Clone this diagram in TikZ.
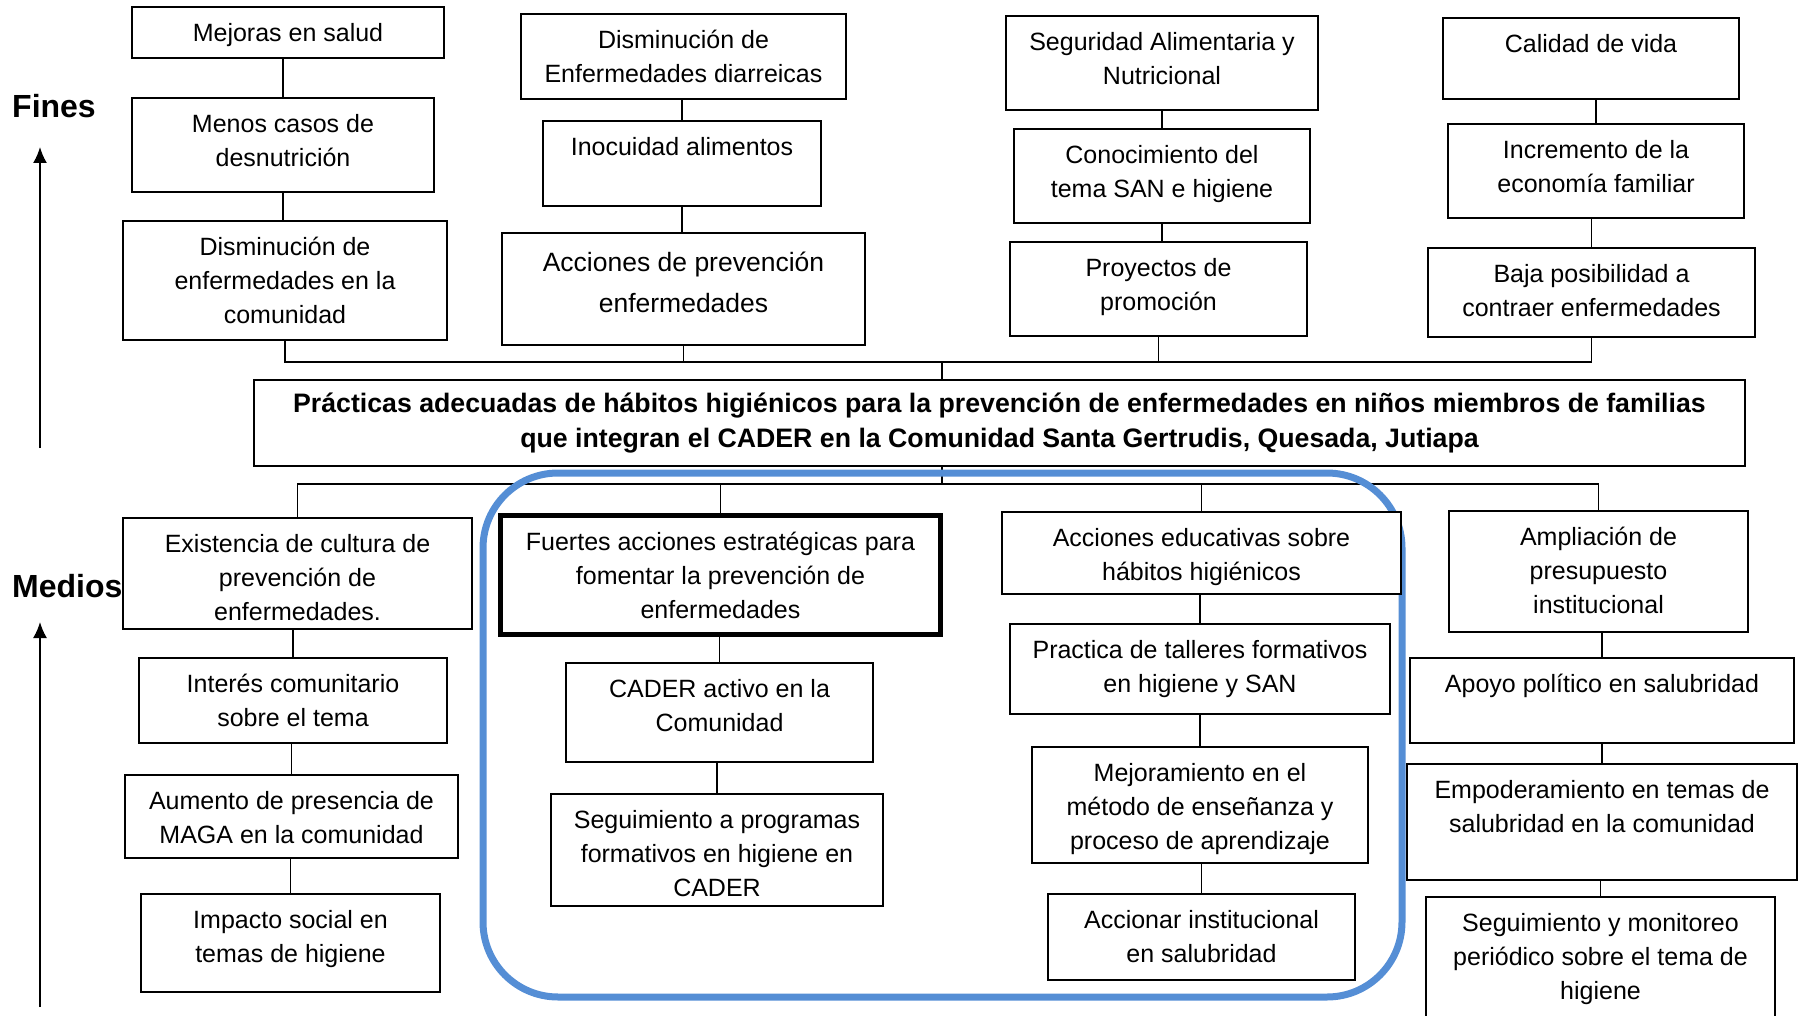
\documentclass[tikz,border=0pt]{standalone}
\usepackage{fontspec}
\setmainfont{Liberation Sans}
\usetikzlibrary{arrows.meta,positioning,backgrounds}
\definecolor{azul}{HTML}{558ED5}
\tikzset{
  caja/.style 2 args={draw, fill=white, line width=1.6pt, inner sep=0pt, anchor=north west,
    minimum width=#1pt-1.6pt, minimum height=#2pt-1.6pt},
  rotulo/.style={anchor=north, align=center, inner sep=0pt, yshift=-17pt,
    font=\fontsize{25}{34}\selectfont},
  linea/.style={line width=1.6pt},
  flecha/.style={line width=1.8pt, -{Latex[length=16pt,width=14pt]}},
  titulo/.style={font=\fontsize{32}{36}\selectfont\bfseries, anchor=base west, inner sep=0pt}
}

\begin{document}
\begin{tikzpicture}[x=1pt, y=-1pt]
\useasboundingbox (0,0) rectangle (1802,1016);

\node[titulo] (fines) at (12,118) {Fines};
\node[titulo] (medios) at (12,597) {Medios};

\node[caja={314}{53}, label={[rotulo]north:{Mejoras en salud}}] (mejoras) at (131,6) {};
\node[caja={304}{96}, label={[rotulo]north:{Menos casos de\\desnutrición}}] (menos) at (131,97) {};
\node[caja={326}{121}, label={[rotulo]north:{Disminución de\\enfermedades en la\\comunidad}}] (dismcom) at (122,220) {};

\node[caja={327}{87}, label={[rotulo]north:{Disminución de\\Enfermedades diarreicas}}] (diarreicas) at (520,13) {};
\node[caja={280}{87}, label={[rotulo]north:{Inocuidad alimentos}}] (inocuidad) at (542,120) {};
\node[caja={365}{114}, label={[rotulo, yshift=-3pt, font=\fontsize{26.5}{41}\selectfont]north:{Acciones de prevención\\enfermedades}}] (prevencion) at (501,232) {};

\node[caja={314}{96}, label={[rotulo]north:{Seguridad Alimentaria y\\Nutricional}}] (seguridad) at (1005,15) {};
\node[caja={298}{96}, label={[rotulo]north:{Conocimiento del\\tema SAN e higiene}}] (conocimiento) at (1013,128) {};
\node[caja={299}{96}, label={[rotulo]north:{Proyectos de\\promoción}}] (proyectos) at (1009,241) {};

\node[caja={298}{83}, label={[rotulo]north:{Calidad de vida}}] (calidad) at (1442,17) {};
\node[caja={298}{96}, label={[rotulo]north:{Incremento de la\\economía familiar}}] (incremento) at (1447,123) {};
\node[caja={329}{91}, label={[rotulo]north:{Baja posibilidad a\\contraer enfermedades}}] (baja) at (1427,247) {};

\node[draw, fill=white, line width=1.6pt, minimum width=1491pt, minimum height=86pt, align=center,
  font=\fontsize{26.7}{34.5}\selectfont\bfseries] (problema) at (999.5,423)
  {Prácticas adecuadas de hábitos higiénicos para la prevención de enfermedades en niños miembros de familias\\
   que integran el CADER en la Comunidad Santa Gertrudis, Quesada, Jutiapa};

\node[caja={351}{113}, label={[rotulo]north:{Existencia de cultura de\\prevención de\\enfermedades.}}] (existencia) at (122,517) {};
\node[caja={310}{87}, label={[rotulo]north:{Interés comunitario\\sobre el tema}}] (interes) at (138,657) {};
\node[caja={335}{85}, label={[rotulo]north:{Aumento de presencia de\\MAGA en la comunidad}}] (aumento) at (124,774) {};
\node[caja={301}{100}, label={[rotulo]north:{Impacto social en\\temas de higiene}}] (impacto) at (140,893) {};

\node[caja={442}{121}, line width=4.5pt, label={[rotulo, yshift=-2pt]north:{Fuertes acciones estratégicas para\\fomentar la prevención de\\enfermedades}}] (fuertes) at (498,513) {};
\node[caja={309}{101}, label={[rotulo]north:{CADER activo en la\\Comunidad}}] (cader) at (565,662) {};
\node[caja={334}{114}, label={[rotulo]north:{Seguimiento a programas\\formativos en higiene en\\CADER}}] (segprog) at (550,793) {};

\node[caja={401}{84}, label={[rotulo]north:{Acciones educativas sobre\\hábitos higiénicos}}] (educativas) at (1001,511) {};
\node[caja={382}{92}, label={[rotulo]north:{Practica de talleres formativos\\en higiene y SAN}}] (talleres) at (1009,623) {};
\node[caja={338}{118}, label={[rotulo]north:{Mejoramiento en el\\método de enseñanza y\\proceso de aprendizaje}}] (mejoramiento) at (1031,746) {};
\node[caja={309}{88}, label={[rotulo]north:{Accionar institucional\\en salubridad}}] (accionar) at (1047,893) {};

\node[caja={301}{123}, label={[rotulo]north:{Ampliación de\\presupuesto\\institucional}}] (ampliacion) at (1448,510) {};
\node[caja={386}{87}, label={[rotulo]north:{Apoyo político en salubridad}}] (apoyo) at (1409,657) {};
\node[caja={392}{118}, label={[rotulo]north:{Empoderamiento en temas de\\salubridad en la comunidad}}] (empoderamiento) at (1406,763) {};
\node[caja={351}{140}, label={[rotulo]north:{Seguimiento y monitoreo\\periódico sobre el tema de\\higiene}}] (segmon) at (1425,896) {};

\coordinate (busfin) at (942,362);
\coordinate (busmed) at (942,484);
\coordinate (finesbase) at (40,448);
\coordinate (finestip) at (40,147);
\coordinate (mediosbase) at (40,1007);
\coordinate (mediostip) at (40,622);

\draw[flecha] (finesbase) -- (finestip);
\draw[flecha] (mediosbase) -- (mediostip);

\begin{pgfonlayer}{background}
\draw[linea] (menos.north) -- (menos.north |- mejoras.south);
\draw[linea] (menos.south) -- (menos.south |- dismcom.north);
\draw[linea] (inocuidad.north) -- (inocuidad.north |- diarreicas.south);
\draw[linea] (inocuidad.south) -- (inocuidad.south |- prevencion.north);
\draw[linea] (conocimiento.north) -- (conocimiento.north |- seguridad.south);
\draw[linea] (conocimiento.south) -- (conocimiento.south |- proyectos.north);
\draw[linea] (incremento.north) -- (incremento.north |- calidad.south);
\draw[linea] (baja.north) -- (baja.north |- incremento.south);

\draw[linea] (dismcom.south) |- (busfin) -| (baja.south);
\draw[linea] (prevencion.south) -- (prevencion.south |- busfin);
\draw[linea] (proyectos.south) -- (proyectos.south |- busfin);
\draw[linea] (busfin) -- (busfin |- problema.north);

\draw[linea] (existencia.north) |- (busmed) -| (ampliacion.north);
\draw[linea] (fuertes.north) -- (fuertes.north |- busmed);
\draw[linea] (educativas.north) -- (educativas.north |- busmed);
\draw[linea] (busmed) -- (busmed |- problema.south);

\draw[linea] (interes.north) -- (interes.north |- existencia.south);
\draw[linea] (aumento.north) -- (aumento.north |- interes.south);
\draw[linea] (impacto.north) -- (impacto.north |- aumento.south);
\draw[linea] (cader.north) -- (cader.north |- fuertes.south);
\draw[linea] (segprog.north) -- (segprog.north |- cader.south);
\draw[linea] (talleres.north) -- (talleres.north |- educativas.south);
\draw[linea] (mejoramiento.north) -- (mejoramiento.north |- talleres.south);
\draw[linea] (accionar.north) -- (accionar.north |- mejoramiento.south);
\draw[linea] (apoyo.north) -- (apoyo.north |- ampliacion.south);
\draw[linea] (empoderamiento.north) -- (empoderamiento.north |- apoyo.south);
\draw[linea] (segmon.north) -- (segmon.north |- empoderamiento.south);

\draw[line width=7pt, azul, rounded corners=75pt] (483,473) rectangle (1402,997);
\end{pgfonlayer}

\end{tikzpicture}
\end{document}
